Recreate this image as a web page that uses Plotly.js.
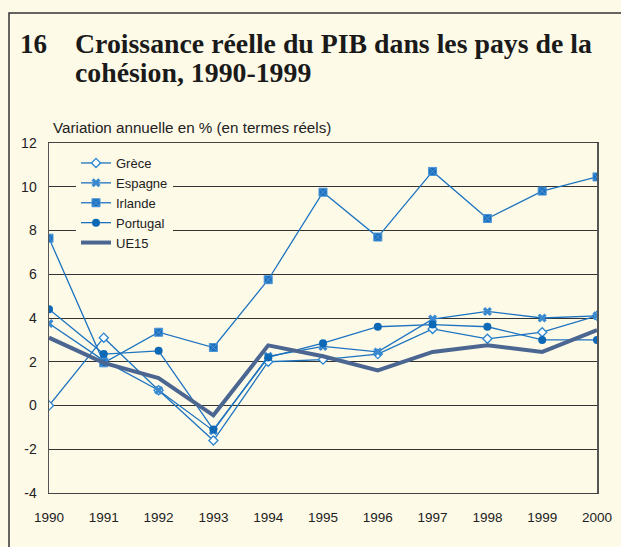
<!DOCTYPE html>
<html>
<head>
<meta charset="utf-8">
<script src="https://cdn.plot.ly/plotly-3.0.1.min.js"></script>
<style>
html,body{margin:0;padding:0;background:#fefae8;}
#chart{width:621px;height:547px;}
</style>
</head>
<body>
<div id="chart"></div>
<script>
const years = [1990, 1991, 1992, 1993, 1994, 1995, 1996, 1997, 1998, 1999, 2000];
const grece    = [0.0, 3.1, 0.7, -1.6, 2.0, 2.1, 2.35, 3.5, 3.05, 3.35, 4.1];
const espagne  = [3.75, 2.05, 0.7, -1.15, 2.25, 2.7, 2.45, 3.95, 4.3, 4.0, 4.1];
const irlande  = [7.65, 1.95, 3.35, 2.65, 5.75, 9.75, 7.7, 10.7, 8.55, 9.8, 10.45];
const portugal = [4.4, 2.35, 2.5, -1.1, 2.2, 2.85, 3.6, 3.7, 3.6, 3.0, 3.0];
const ue15     = [3.1, 1.95, 1.25, -0.45, 2.75, 2.25, 1.6, 2.45, 2.75, 2.45, 3.45];
const yTicks = [-4, -2, 0, 2, 4, 6, 8, 10, 12];
const xTicks = years;

const lineBlue = '#1c73c0';
const bg = '#fefae8';

const traces = [
  {x: years, y: grece, name: 'Grèce', mode: 'lines+markers',
   line: {color: lineBlue, width: 1.3},
   marker: {symbol: 'diamond', size: 7, color: '#ffffff', line: {color: '#2a85cf', width: 1.3}}},
  {x: years, y: espagne, name: 'Espagne', mode: 'lines+markers',
   line: {color: lineBlue, width: 1.3},
   marker: {symbol: 'x', size: 8, color: '#3b8ad0', line: {width: 0}}},
  {x: years, y: irlande, name: 'Irlande', mode: 'lines+markers',
   line: {color: lineBlue, width: 1.3},
   marker: {symbol: 'square-x', size: 8, color: '#1d6fbf', line: {color: '#4a95d6', width: 1}}},
  {x: years, y: portugal, name: 'Portugal', mode: 'lines+markers',
   line: {color: lineBlue, width: 1.3},
   marker: {symbol: 'circle', size: 8, color: '#0d69b5'}},
  {x: years, y: ue15, name: 'UE15', mode: 'lines',
   line: {color: '#4b6691', width: 4}}
];

const L = 49, R = 597, T = 143, B = 493;
const px = v => (v - L) / (R - L);
const py = v => (B - v) / (B - T);

const layout = {
  width: 621, height: 547,
  margin: {l: L, r: 621 - R, t: T, b: 547 - B, pad: 0},
  paper_bgcolor: bg, plot_bgcolor: bg,
  font: {family: 'Liberation Sans, Arial, sans-serif', color: '#222', size: 13},
  showlegend: true,
  legend: {x: px(76), y: py(148), xanchor: 'left', yanchor: 'top',
           bgcolor: bg, borderwidth: 0, font: {size: 13, color: '#222'},
           itemwidth: 30, tracegroupgap: 0},
  xaxis: {range: [1990, 2000], tickvals: xTicks, ticktext: xTicks.map(String),
          showgrid: false, zeroline: false, showline: true, mirror: true,
          linecolor: '#444', linewidth: 1,
          ticks: 'outside', ticklen: 12, tickcolor: 'rgba(0,0,0,0)',
          tickfont: {size: 13.5, color: '#222'}, fixedrange: true},
  yaxis: {range: [-4, 12], tickvals: yTicks, ticktext: yTicks.map(String),
          showgrid: true, gridcolor: '#333', gridwidth: 1,
          zeroline: true, zerolinecolor: '#333', zerolinewidth: 1,
          showline: true, mirror: true, linecolor: '#555', linewidth: 1.5,
          ticks: 'outside', ticklen: 8, tickcolor: 'rgba(0,0,0,0)',
          tickfont: {size: 14, color: '#222'}, fixedrange: true},
  yaxis2: {range: [-4, 12], tickvals: yTicks, ticktext: yTicks.map(String),
           overlaying: 'y', side: 'right', showgrid: false, zeroline: false,
           showline: false, ticks: 'outside', ticklen: 3, tickcolor: 'rgba(0,0,0,0)',
           tickfont: {size: 14, color: '#222'}, fixedrange: true},
  shapes: [
    {type: 'rect', xref: 'paper', yref: 'paper', x0: px(9), x1: px(1000), y0: py(900), y1: py(13),
     line: {color: '#333', width: 1.5}, fillcolor: 'rgba(0,0,0,0)', layer: 'below'}
  ],
  annotations: [
    {xref: 'paper', yref: 'paper', x: px(18), y: py(44), xanchor: 'left', yanchor: 'middle',
     text: '<b>16</b>', showarrow: false,
     font: {family: 'Liberation Serif, serif', size: 27, color: '#1a1a1a'}},
    {xref: 'paper', yref: 'paper', x: px(73), y: py(44), xanchor: 'left', yanchor: 'middle',
     text: '<b>Croissance réelle du PIB dans les pays de la</b>', showarrow: false,
     font: {family: 'Liberation Serif, serif', size: 27.8, color: '#1a1a1a'}},
    {xref: 'paper', yref: 'paper', x: px(73), y: py(72), xanchor: 'left', yanchor: 'middle',
     text: '<b>cohésion, 1990-1999</b>', showarrow: false,
     font: {family: 'Liberation Serif, serif', size: 27.8, color: '#1a1a1a'}},
    {xref: 'paper', yref: 'paper', x: px(51), y: py(128), xanchor: 'left', yanchor: 'middle',
     text: 'Variation annuelle en % (en termes réels)', showarrow: false,
     font: {family: 'Liberation Sans, Arial, sans-serif', size: 15.2, color: '#222'}}
  ]
};

Plotly.newPlot('chart', traces, layout, {displayModeBar: false, staticPlot: true});
</script>
</body>
</html>
